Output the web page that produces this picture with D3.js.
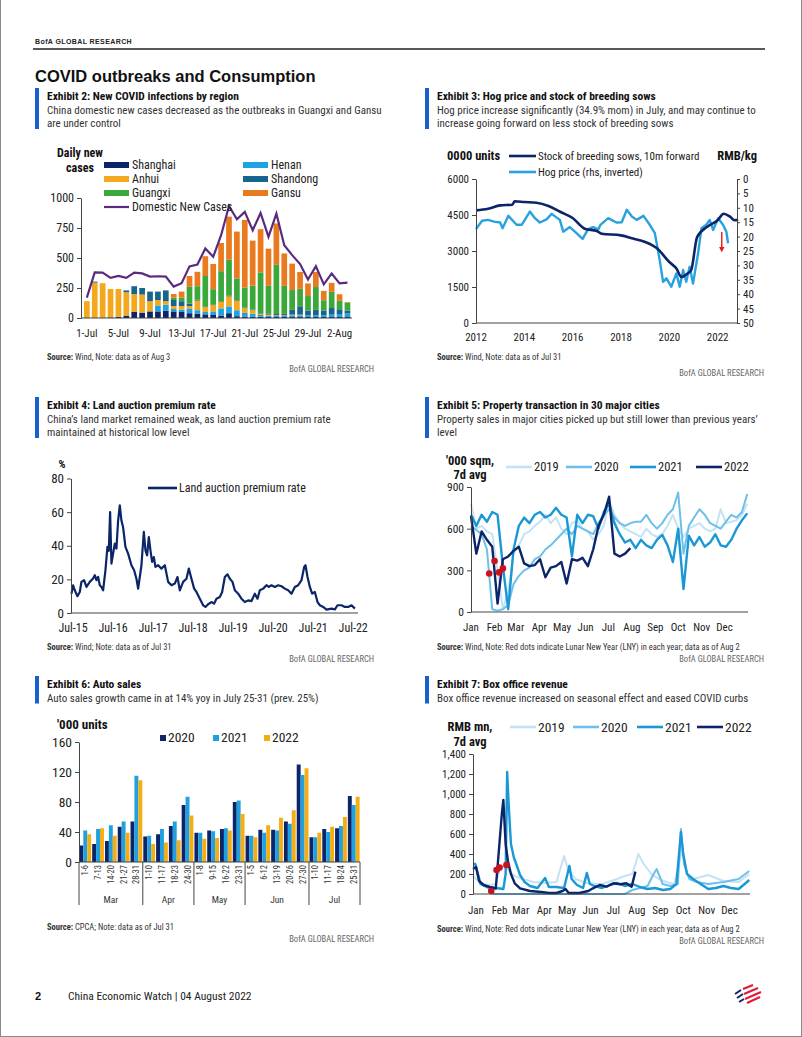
<!DOCTYPE html>
<html><head><meta charset="utf-8">
<script src="https://cdn.jsdelivr.net/npm/d3@7"></script>
<style>
body{margin:0;background:#fff;}
svg{display:block;}
</style></head><body><svg id="c" width="802" height="1037"></svg>
<script>
// ---------------- DATA ----------------
// Exhibit 2: COVID
const covidDates = ["1-Jul","2-Jul","3-Jul","4-Jul","5-Jul","6-Jul","7-Jul","8-Jul","9-Jul","10-Jul","11-Jul","12-Jul","13-Jul","14-Jul","15-Jul","16-Jul","17-Jul","18-Jul","19-Jul","20-Jul","21-Jul","22-Jul","23-Jul","24-Jul","25-Jul","26-Jul","27-Jul","28-Jul","29-Jul","30-Jul","31-Jul","1-Aug","2-Aug","3-Aug"];
const covidTicks = ["1-Jul","5-Jul","9-Jul","13-Jul","17-Jul","21-Jul","25-Jul","29-Jul","2-Aug"];
const shanghai = [0,0,0,5,10,20,50,45,55,55,60,55,50,40,35,30,25,20,40,15,12,10,10,8,8,8,8,8,8,8,8,8,8,8];
const henan    = [0,0,0,0,0,0,0,0,0,50,50,20,20,40,30,20,30,60,57,50,30,25,15,10,10,10,15,15,15,15,15,20,25,30];
const anhui    = [140,295,290,237,232,195,150,150,85,45,30,25,30,20,80,45,55,55,83,80,40,30,10,10,5,5,5,5,0,0,0,0,0,0];
const shandong = [0,8,0,0,0,15,65,55,80,70,90,50,40,20,10,5,5,5,5,5,5,5,5,10,10,15,40,70,40,45,40,55,40,25];
const guangxi  = [0,0,0,0,0,0,0,0,0,0,0,20,30,140,110,250,125,250,300,180,165,200,340,230,410,230,165,145,120,190,85,135,70,65];
const gansu    = [0,0,0,0,0,0,0,0,0,0,0,30,50,90,120,165,210,235,360,390,565,375,360,310,345,270,220,140,105,125,78,75,55,5];
const domestic = [170,380,378,335,350,335,378,372,345,348,345,262,290,430,445,580,510,690,933,823,884,731,875,676,870,607,524,449,321,432,280,371,288,294];
const covidTickVals = [0,250,500,750,1000];

// Exhibit 3: Hog
const sowYears = [2012.0,2012.5,2013.0,2013.5,2013.6,2014.0,2014.5,2015.0,2015.5,2016.0,2016.5,2017.0,2017.2,2018.0,2018.5,2019.0,2019.5,2020.0,2020.3,2020.5,2020.75,2020.9,2021.15,2021.6,2022.0,2022.25,2022.5,2022.7,2022.85];
const sowStock = [4694,4760,4900,4930,5070,5040,5010,4875,4625,4375,3930,3833,3720,3650,3520,3375,3100,2540,2260,1920,2065,2190,3580,4030,4280,4555,4440,4280,4300];
const hogYears = [2012.0,2012.25,2012.5,2012.75,2013.0,2013.1,2013.34,2013.68,2013.89,2014.23,2014.44,2014.64,2014.92,2015.13,2015.47,2015.61,2015.88,2016.16,2016.41,2016.64,2016.85,2017.06,2017.15,2017.47,2017.81,2018.03,2018.24,2018.45,2018.65,2018.93,2019.19,2019.4,2019.6,2019.74,2019.88,2020.08,2020.29,2020.43,2020.57,2020.7,2020.84,2020.98,2021.19,2021.33,2021.53,2021.67,2021.81,2022.02,2022.22,2022.36,2022.43];
const hogPrice = [17.4,14.5,14.2,14.8,15.1,17.1,12.8,15.9,15.9,11.3,13.6,15.1,14.0,12.1,14.2,18.3,16.7,18.8,20.8,17.4,16.7,17.5,15.9,13.6,15.1,15.0,10.7,13.0,14.2,12.8,15.9,18.8,28.1,35.7,34.5,37.4,32.8,37.4,31.6,35.7,30.5,36.3,25.8,17.1,15.9,14.2,17.7,13.6,15.9,18.3,22.3];
const sowTicks = [0,1500,3000,4500,6000];
const hogTicks = [0,5,10,15,20,25,30,35,40,45,50];
const yearTicks = [2012,2014,2016,2018,2020,2022];

// Exhibit 4: Land auction premium
const landYears = [2015.458,2015.5,2015.542,2015.608,2015.667,2015.708,2015.775,2015.833,2015.917,2016.0,2016.042,2016.083,2016.125,2016.167,2016.208,2016.25,2016.308,2016.358,2016.392,2016.425,2016.458,2016.5,2016.542,2016.583,2016.625,2016.667,2016.708,2016.75,2016.808,2016.875,2016.958,2017.025,2017.083,2017.125,2017.167,2017.208,2017.267,2017.308,2017.35,2017.392,2017.433,2017.475,2017.517,2017.558,2017.625,2017.708,2017.792,2017.875,2017.958,2018.042,2018.108,2018.167,2018.25,2018.333,2018.392,2018.458,2018.525,2018.583,2018.667,2018.75,2018.808,2018.875,2018.958,2019.025,2019.083,2019.167,2019.225,2019.292,2019.358,2019.417,2019.483,2019.542,2019.625,2019.708,2019.792,2019.875,2019.958,2020.042,2020.108,2020.167,2020.25,2020.333,2020.392,2020.458,2020.542,2020.625,2020.708,2020.792,2020.875,2020.958,2021.042,2021.125,2021.208,2021.275,2021.308,2021.358,2021.417,2021.475,2021.542,2021.608,2021.667,2021.75,2021.833,2021.958,2022.042,2022.108,2022.208,2022.292,2022.375,2022.458,2022.542];
const landRate = [11.5,16.5,13.5,10,12.5,18.5,19.5,15.5,18.5,20.5,22.5,19.5,21.5,16.5,15.5,13.5,25.4,39.3,37,60,29.4,35.3,41.3,38.3,55,64,55,51,39.3,35.3,28.4,25.4,20.4,14.5,21.4,28.4,48.2,37.3,34.3,45.2,37.3,30.4,33.3,27.4,28.4,26.4,28.4,18.5,16.5,17.5,21.4,13.5,18.5,20.4,26.4,20.4,14.5,12.5,8.5,4.6,3.6,5.2,6.5,5.6,8.5,9.5,12.5,21.4,23,20.4,18.5,13.5,11.5,8.5,6.5,7.5,7.1,11.5,8.5,13.5,14.5,16.5,15.5,16.5,15.5,16.5,15.9,14.5,13.5,11.5,15.5,16.5,19.5,27.4,28.4,21.4,15.5,11.5,12.5,6.5,4.6,3.6,2,2.6,2.2,4.6,4.6,3.6,3.6,4.6,2.6];
const landTickYears = [2015.5,2016.5,2017.5,2018.5,2019.5,2020.5,2021.5,2022.5];
const landTickLabels = ["Jul-15","Jul-16","Jul-17","Jul-18","Jul-19","Jul-20","Jul-21","Jul-22"];
const landTicks = [0,20,40,60,80];

// Exhibit 5: Property (weekly, week index -> day = 7*week)
const prop2019 = [780,600,620,580,560,300,20,150,420,480,560,580,620,650,700,640,680,600,560,640,660,600,580,520,560,620,800,700,640,600,580,560,540,600,560,540,560,620,700,600,540,600,620,640,600,580,600,740,640,650,660,700,780];
const prop2020 = [620,590,560,450,20,10,20,50,200,260,300,320,380,400,450,480,520,560,600,560,620,600,580,560,640,700,740,680,640,620,640,650,650,700,640,600,640,700,740,860,420,620,680,740,700,640,620,600,650,700,680,720,850];
const prop2021 = [700,620,700,650,720,700,330,20,450,620,680,640,700,720,680,700,750,700,680,400,700,640,700,690,600,720,780,640,560,500,520,460,520,480,460,520,555,480,360,600,165,550,480,540,470,500,560,480,470,520,600,660,710];
const prop2022 = [690,420,580,520,470,60,380,400,440,470,350,330,338,380,250,320,330,360,205,380,370,390,330,450,620,700,830,420,400,420,460];
const propLnyDays = [37,24,42,31];
const propLnyVals = [285,277,314,367];
const propTicks = [0,300,600,900];
const monthStarts = [0,31,59,90,120,151,181,212,243,273,304,334];
const monthLabels = ["Jan","Feb","Mar","Apr","May","Jun","Jul","Aug","Sep","Oct","Nov","Dec"];
const yearNames = ["2019","2020","2021","2022"];

// Exhibit 6: Auto sales
const autoCats = ["1-6","7-13","14-20","21-27","28-31","1-10","11-17","18-23","24-30","1-8","9-15","16-22","23-31","1-5","6-12","13-19","20-26","27-30","1-10","11-17","18-24","25-31"];
const autoMonths = ["Mar","Apr","May","Jun","Jul"];
const autoMonthCounts = [5,4,4,5,4];
const sales2020 = [22,24,28,47,54,34,37,48,76,39,42,44,80,35,43,43,54,130,33,44,45,88];
const sales2021 = [42,44,49,54,115,35,44,54,87,39,41,45,82,35,39,42,51,116,33,40,48,76];
const sales2022 = [37,45,35,39,109,24,26,29,62,31,32,42,64,33,49,59,69,125,39,47,60,87];
const autoTicks = [0,40,80,120,160];

// Exhibit 7: Box office (day of year, value)
const box2019Days = [0,10,20,30,36,40,45,55,65,80,95,110,117,120,125,135,150,170,190,200,210,218,225,235,245,255,265,276,282,290,310,330,350,364];
const box2019Vals = [180,110,90,100,260,280,250,180,150,120,110,120,300,380,250,150,110,100,150,180,200,400,300,200,150,120,100,450,200,150,190,130,120,200];
const box2020Days = [0,3,10,20,24,27,200,210,220,230,238,242,250,260,270,274,278,285,295,310,330,350,364];
const box2020Vals = [300,300,100,60,40,0,0,40,60,80,200,250,100,80,100,650,300,150,120,100,120,150,230];
const box2021Days = [0,3,10,20,30,40,43,45,47,50,54,57,62,68,75,85,95,100,110,120,127,130,137,145,150,154,160,170,180,190,200,210,220,230,240,250,260,268,274,277,282,290,300,310,320,330,340,350,358,364];
const box2021Vals = [300,300,100,70,60,50,200,1220,900,500,360,300,190,120,80,60,160,70,70,60,280,150,90,60,210,100,80,60,90,110,80,100,70,50,60,40,50,100,620,400,200,150,100,50,60,80,60,50,100,140];
const box2022Days = [0,4,8,14,22,30,32,35,38,40,43,46,50,55,62,75,90,100,110,118,122,126,140,152,158,167,176,185,194,202,209,214];
const box2022Vals = [250,270,130,90,70,55,240,520,800,940,500,330,200,107,57,30,20,10,10,30,50,10,10,30,57,90,73,107,97,107,73,224];
const boxLnyDays = [35,24,44,31];
const boxLnyVals = [264,30,290,240];
const boxTicks = [0,200,400,600,800,1000,1200,1400];

// ---------------- DRAW ----------------
const NAVY="#0c2468", BLUE="#1a98d5", LBLUE="#6cc0ea", PALE="#c4e2f4", PURPLE="#5a2a7e", RED="#cc1020", BARBLUE="#1a5fd0";
const NF = "'Liberation Sans Narrow','Roboto Condensed','Arial Narrow','Liberation Sans',sans-serif";
const RF = "'Liberation Sans',Arial,sans-serif";
const svg = d3.select("#c");

function T(x,y,s,o={}){
  const t = svg.append("text").attr("x",x).attr("y",y).text(s)
    .attr("font-family",o.ff||NF).attr("font-size",o.fs||11).attr("fill",o.fill||"#222");
  if(o.bold) t.attr("font-weight","bold");
  if(o.anchor) t.attr("text-anchor",o.anchor);
  if(o.ls) t.attr("letter-spacing",o.ls);
  return t;
}
function L(x1,y1,x2,y2,c,w){ return svg.append("line").attr("x1",x1).attr("y1",y1).attr("x2",x2).attr("y2",y2).attr("stroke",c).attr("stroke-width",w); }
function styleAxis(g,fs){
  g.select(".domain").attr("stroke","#444").attr("stroke-width",1);
  g.selectAll(".tick line").attr("stroke","#444");
  g.selectAll("text").attr("font-family",NF).attr("font-size",fs).attr("fill","#222");
}

// page frame
svg.append("rect").attr("x",0.5).attr("y",-2).attr("width",801).attr("height",1038.5).attr("fill","none").attr("stroke","#8a8a8a");
T(35,44,"BofA GLOBAL RESEARCH",{ff:RF,fs:7,bold:true,ls:0.4});
L(33,49,765,49,"#222",1.3);
T(35,82,"COVID outbreaks and Consumption",{ff:RF,fs:16.5,bold:true,fill:"#111"});

function header(x,y,title,subs){
  const h = 14+subs.length*13.5;
  svg.append("rect").attr("x",x).attr("y",y-12).attr("width",4).attr("height",h).attr("fill",BARBLUE);
  T(x+12,y,title,{fs:11.5,bold:true,fill:"#111"});
  subs.forEach((s,i)=>T(x+12,y+14+i*13,s,{fs:11,fill:"#333"}));
}
function source(x,y,rest,rx,ry){
  const t = T(x,y,"",{fs:8.5,fill:"#333"});
  t.append("tspan").attr("font-weight","bold").text("Source:");
  t.append("tspan").text(rest);
  T(rx,ry,"BofA GLOBAL RESEARCH",{fs:8.5,fill:"#666",anchor:"end"});
}

header(35,100,"Exhibit 2: New COVID infections by region",["China domestic new cases decreased as the outbreaks in Guangxi and Gansu","are under control"]);
header(425,100,"Exhibit 3: Hog price and stock of breeding sows",["Hog price increase significantly (34.9% mom) in July, and may continue to","increase going forward on less stock of breeding sows"]);
header(35,409,"Exhibit 4: Land auction premium rate",["China\u2019s land market remained weak, as land auction premium rate","maintained at historical low level"]);
header(425,409,"Exhibit 5: Property transaction in 30 major cities",["Property sales in major cities picked up but still lower than previous years\u2019","level"]);
header(35,688,"Exhibit 6: Auto sales",["Auto sales growth came in at 14% yoy in July 25-31 (prev. 25%)"]);
header(425,688,"Exhibit 7: Box office revenue",["Box office revenue increased on seasonal effect and eased COVID curbs"]);

source(47,360," Wind, Note: data as of Aug 3",374,372);
source(437,360," Wind, Note: data as of Jul 31",764,376);
source(47,650," Wind; Note: data as of Jul 31",374,662);
source(437,650," Wind, Note: Red dots indicate Lunar New Year (LNY) in each year; data as of Aug 2",764,662);
source(47,930," CPCA; Note: data as of Jul 31",374,942);
source(437,932," Wind, Note: Red dots indicate Lunar New Year (LNY) in each year; data as of Aug 2",764,944);

// ---------- Exhibit 2 ----------
{
  const x = d3.scaleBand().domain(covidDates).range([84,350.3]).paddingInner(0.28);
  const y = d3.scaleLinear().domain([0,1000]).range([318,198]);
  const keys = ["Shanghai","Henan","Anhui","Shandong","Guangxi","Gansu"];
  const cols = {Shanghai:NAVY,Henan:"#1ea2e2",Anhui:"#f4a81d",Shandong:"#16658c",Guangxi:"#3aa83a",Gansu:"#ea7a1e"};
  const src = {Shanghai:shanghai,Henan:henan,Anhui:anhui,Shandong:shandong,Guangxi:guangxi,Gansu:gansu};
  const rows = covidDates.map((d,i)=>{const r={date:d}; keys.forEach(k=>r[k]=src[k][i]); return r;});
  const series = d3.stack().keys(keys)(rows);
  svg.append("g").selectAll("g").data(series).join("g").attr("fill",s=>cols[s.key])
    .selectAll("rect").data(s=>s).join("rect")
    .attr("x",d=>x(d.data.date)).attr("width",x.bandwidth())
    .attr("y",d=>y(d[1])).attr("height",d=>y(d[0])-y(d[1]));
  const line = d3.line().x((d,i)=>x(covidDates[i])+x.bandwidth()/2).y(d=>y(d));
  svg.append("path").datum(domestic).attr("d",line).attr("fill","none").attr("stroke",PURPLE).attr("stroke-width",2.2);
  const ga = svg.append("g").attr("transform","translate(81,0)").call(d3.axisLeft(y).tickValues(covidTickVals).tickFormat(d3.format("d")).tickSize(4).tickSizeOuter(0).tickPadding(3));
  styleAxis(ga,12);
  L(81,318,352,318,"#444",1);
  covidTicks.forEach(d=>T(x(d)+x.bandwidth()/2,337,d,{fs:11,anchor:"middle"}));
  T(80,157,"Daily new",{fs:12,bold:true,anchor:"middle",fill:"#111"});
  T(80,172,"cases",{fs:12,bold:true,anchor:"middle",fill:"#111"});
  const leg = [["Shanghai",104,162],["Anhui",104,176],["Guangxi",104,190],["Henan",243,162],["Shandong",243,176],["Gansu",243,190]];
  leg.forEach(([k,lx,ly])=>{svg.append("rect").attr("x",lx).attr("y",ly).attr("width",25).attr("height",6).attr("fill",cols[k]); T(lx+28,ly+7,k,{fs:12});});
  L(104,207,129,207,PURPLE,2.2);
  T(132,211,"Domestic New Cases",{fs:12});
}

// ---------- Exhibit 3 ----------
{
  const x = d3.scaleLinear().domain([2012,2022.8]).range([476,737]);
  const yL = d3.scaleLinear().domain([0,6000]).range([323,179]);
  const yR = d3.scaleLinear().domain([0,50]).range([179,323]);
  svg.append("path").datum(hogPrice).attr("d",d3.line().x((d,i)=>x(hogYears[i])).y(d=>yR(d)))
    .attr("fill","none").attr("stroke","#27a2df").attr("stroke-width",2.4).attr("stroke-linejoin","round");
  svg.append("path").datum(sowStock).attr("d",d3.line().curve(d3.curveMonotoneX).x((d,i)=>x(sowYears[i])).y(d=>yL(d)))
    .attr("fill","none").attr("stroke",NAVY).attr("stroke-width",2.6);
  const g1 = svg.append("g").attr("transform","translate(476,0)").call(d3.axisLeft(yL).tickValues(sowTicks).tickFormat(d3.format("d")).tickSize(4).tickSizeOuter(0).tickPadding(3));
  styleAxis(g1,11);
  const g2 = svg.append("g").attr("transform","translate(737,0)").call(d3.axisRight(yR).tickValues(hogTicks).tickSize(3).tickSizeOuter(0).tickPadding(3));
  styleAxis(g2,11);
  L(476,323,737,323,"#444",1);
  yearTicks.forEach(d=>T(x(d),341,String(d),{fs:11,anchor:"middle"}));
  svg.append("defs").append("marker").attr("id","ah").attr("viewBox","0 0 10 10").attr("refX",5).attr("refY",5)
    .attr("markerWidth",4).attr("markerHeight",4).attr("orient","auto").append("path").attr("d","M0,0L10,5L0,10z").attr("fill","#e8141e");
  svg.append("line").attr("x1",x(2022.17)).attr("y1",yR(18.4)).attr("x2",x(2022.17)).attr("y2",yR(24.5))
    .attr("stroke","#e8141e").attr("stroke-width",1.4).attr("marker-end","url(#ah)");
  T(447,160,"0000 units",{fs:12.5,bold:true,fill:"#111"});
  T(757,160,"RMB/kg",{fs:12.5,bold:true,fill:"#111",anchor:"end"});
  L(509,156,536,156,NAVY,2.6); T(538,160,"Stock of breeding sows, 10m forward",{fs:11});
  L(509,172,536,172,"#27a2df",2.6); T(538,176,"Hog price (rhs, inverted)",{fs:11});
}

// ---------- Exhibit 4 ----------
{
  const x = d3.scaleLinear().domain([2015.46,2022.62]).range([71.5,358]);
  const y = d3.scaleLinear().domain([0,80]).range([613,478.5]);
  svg.append("path").datum(landRate).attr("d",d3.line().x((d,i)=>x(landYears[i])).y(d=>y(d)))
    .attr("fill","none").attr("stroke",NAVY).attr("stroke-width",2.2).attr("stroke-linejoin","round");
  const g = svg.append("g").attr("transform","translate(71,0)").call(d3.axisLeft(y).tickValues(landTicks).tickSize(4).tickSizeOuter(0).tickPadding(3));
  styleAxis(g,13);
  L(71,613,358,613,"#444",1);
  landTickYears.forEach((d,i)=>T(x(d),632,landTickLabels[i],{fs:12,anchor:"middle"}));
  T(62,468,"%",{fs:11,bold:true,anchor:"middle",fill:"#111"});
  L(148,488,177,488,NAVY,2.6); T(179,492,"Land auction premium rate",{fs:12});
}

// ---------- Exhibit 5 ----------
{
  const x = d3.scaleLinear().domain([0,365]).range([471,748]);
  const y = d3.scaleLinear().domain([0,900]).range([612,487]);
  const sets = [[prop2019,PALE,2],[prop2020,LBLUE,2],[prop2021,BLUE,2.4],[prop2022,NAVY,2.4]];
  const line = d3.line().x((d,i)=>x(i*7)).y(d=>y(d));
  sets.forEach(([v,c,w])=>svg.append("path").datum(v).attr("d",line).attr("fill","none").attr("stroke",c).attr("stroke-width",w).attr("stroke-linejoin","round"));
  svg.append("g").selectAll("circle").data(propLnyDays).join("circle").attr("cx",d=>x(d)).attr("cy",(d,i)=>y(propLnyVals[i])).attr("r",3.3).attr("fill",RED);
  const g = svg.append("g").attr("transform","translate(471,0)").call(d3.axisLeft(y).tickValues(propTicks).tickSize(4).tickSizeOuter(0).tickPadding(3));
  styleAxis(g,11.5);
  L(471,612,748,612,"#444",1);
  monthStarts.forEach((d,i)=>T(x(d),631,monthLabels[i],{fs:11,anchor:"middle"}));
  T(470,465,"'000 sqm,",{fs:12.5,bold:true,anchor:"middle",fill:"#111"});
  T(470,479,"7d avg",{fs:12.5,bold:true,anchor:"middle",fill:"#111"});
  const lg = [[506,PALE],[566,LBLUE],[630,BLUE],[696,NAVY]];
  lg.forEach(([lx,c],i)=>{L(lx,467,lx+26,467,c,2.6); T(lx+28,471,yearNames[i],{fs:12.5});});
}

// ---------- Exhibit 6 ----------
{
  const x = d3.scaleBand().domain(d3.range(autoCats.length)).range([79,360]).paddingInner(0.08).paddingOuter(0.03);
  const xs = d3.scaleBand().domain([0,1,2]).range([0,x.bandwidth()]);
  const y = d3.scaleLinear().domain([0,160]).range([862,742]);
  const cols = [NAVY,"#1fa0e0","#f5ad14"];
  const data = [sales2020,sales2021,sales2022];
  data.forEach((arr,s)=>svg.append("g").selectAll("rect").data(arr).join("rect")
    .attr("x",(d,i)=>x(i)+xs(s)).attr("width",xs.bandwidth()).attr("y",d=>y(d)).attr("height",d=>862-y(d)).attr("fill",cols[s]));
  const g = svg.append("g").attr("transform","translate(79,0)").call(d3.axisLeft(y).tickValues(autoTicks).tickSize(4).tickSizeOuter(0).tickPadding(3));
  styleAxis(g,13.5);
  L(79,862,360,862,"#444",1);
  autoCats.forEach((c,i)=>svg.append("text").attr("transform",`translate(${x(i)+x.bandwidth()/2+3},865) rotate(-90)`)
    .attr("text-anchor","end").attr("font-family",NF).attr("font-size",8.5).attr("fill","#333").text(c));
  let idx=0; const step = x.step();
  const bounds=[79];
  autoMonthCounts.forEach(n=>{idx+=n; bounds.push(idx<autoCats.length? x(idx)-step*0.04 : 360);});
  bounds.forEach(b=>L(b,862,b,905,"#444",1));
  autoMonths.forEach((m,i)=>T((bounds[i]+bounds[i+1])/2,903,m,{fs:9.5,anchor:"middle",fill:"#333"}));
  T(57,729,"'000 units",{fs:13,bold:true,fill:"#111"});
  [[160,"2020"],[213,"2021"],[264,"2022"]].forEach(([lx,t],i)=>{svg.append("rect").attr("x",lx).attr("y",735).attr("width",6).attr("height",6).attr("fill",cols[i]); T(lx+8,742,t,{fs:13.5});});
}

// ---------- Exhibit 7 ----------
{
  const x = d3.scaleLinear().domain([0,365]).range([473,750]);
  const y = d3.scaleLinear().domain([0,1400]).range([894,754]);
  const sets = [[box2019Days,box2019Vals,PALE,2],[box2020Days,box2020Vals,LBLUE,2],[box2021Days,box2021Vals,BLUE,2.4],[box2022Days,box2022Vals,NAVY,2.4]];
  sets.forEach(([dd,vv,c,w])=>svg.append("path").datum(vv).attr("d",d3.line().x((d,i)=>x(dd[i])).y(d=>y(d)))
    .attr("fill","none").attr("stroke",c).attr("stroke-width",w).attr("stroke-linejoin","round"));
  svg.append("g").selectAll("circle").data(boxLnyDays).join("circle").attr("cx",d=>x(d)).attr("cy",(d,i)=>y(boxLnyVals[i])).attr("r",3.3).attr("fill",RED);
  const g = svg.append("g").attr("transform","translate(473,0)").call(d3.axisLeft(y).tickValues(boxTicks).tickFormat(d3.format(",")).tickSize(4).tickSizeOuter(0).tickPadding(3));
  styleAxis(g,11);
  L(473,894,750,894,"#444",1);
  monthStarts.forEach((d,i)=>T(x(d)+3,914,monthLabels[i],{fs:11,anchor:"middle"}));
  T(470,731,"RMB mn,",{fs:12.5,bold:true,anchor:"middle",fill:"#111"});
  T(470,746,"7d avg",{fs:12.5,bold:true,anchor:"middle",fill:"#111"});
  const lg = [[510,PALE],[573,LBLUE],[637,BLUE],[697,NAVY]];
  lg.forEach(([lx,c],i)=>{L(lx,727,lx+26,727,c,2.6); T(lx+28,732,yearNames[i],{fs:13.5});});
}

// ---------- Footer ----------
T(35,1000,"2",{ff:RF,fs:11,bold:true,fill:"#111"});
T(68,1000,"China Economic Watch | 04 August 2022",{fs:11.5,fill:"#222"});
{
  const g = svg.append("g").attr("transform","translate(733,985)");
  const navyS = [[2,9,8,5],[4,13,10,9],[6,17,11,14]];
  const redS = [[10,4,20,0],[11,9,25,3],[12,14,28,7],[14,18,27,12]];
  navyS.forEach(s=>g.append("line").attr("x1",s[0]).attr("y1",s[1]).attr("x2",s[2]).attr("y2",s[3]).attr("stroke",NAVY).attr("stroke-width",2));
  redS.forEach(s=>g.append("line").attr("x1",s[0]).attr("y1",s[1]).attr("x2",s[2]).attr("y2",s[3]).attr("stroke","#e31837").attr("stroke-width",2));
}
</script></body></html>
